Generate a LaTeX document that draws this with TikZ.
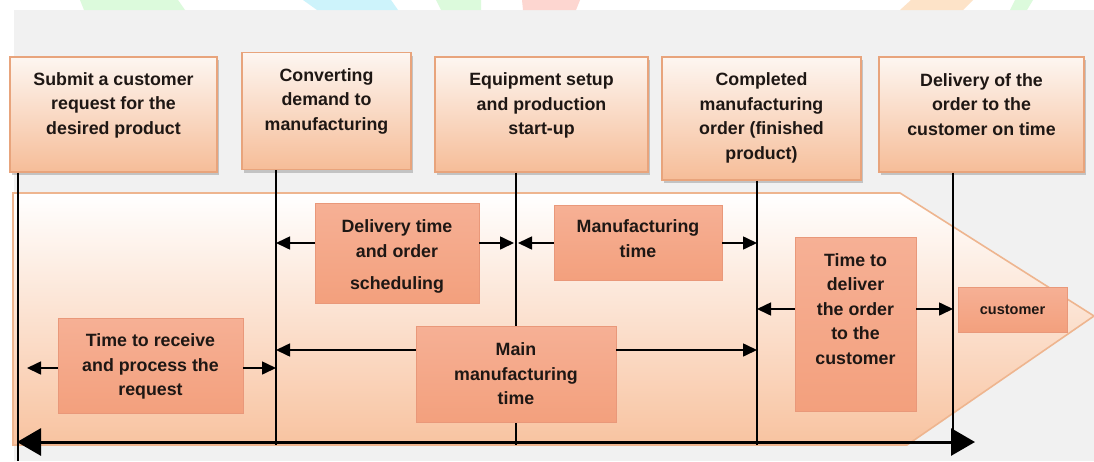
\documentclass[tikz,border=0pt]{standalone}
\usepackage{fontspec}
\setmainfont{Liberation Sans}
\usetikzlibrary{arrows.meta,shadows}
\definecolor{bg}{HTML}{F1F1F1}
\definecolor{topbord}{HTML}{E8A47C}
\definecolor{toptop}{HTML}{FDF6F1}
\definecolor{topbot}{HTML}{F6BD98}
\definecolor{inbord}{HTML}{E9987A}
\definecolor{intop}{HTML}{F6B095}
\definecolor{inbot}{HTML}{F3A07D}
\definecolor{chbord}{HTML}{EEB58F}
\definecolor{chbot}{HTML}{F8C3A0}
\definecolor{txt}{HTML}{1E1714}
\definecolor{wgreen}{HTML}{DCFADC}
\definecolor{wcyan}{HTML}{CDF3FB}
\definecolor{wpink}{HTML}{FDD6D0}
\definecolor{worange}{HTML}{FDE3C8}
\tikzset{
  topbox/.style={draw=topbord, line width=1.2pt, top color=toptop, bottom color=topbot, inner sep=0pt,
    drop shadow={shadow xshift=2pt, shadow yshift=-3pt, fill=black!50, opacity=0.4}},
  inbox/.style={draw=inbord, line width=0.8pt, top color=intop, bottom color=inbot, inner sep=0pt},
  lbl/.style={text=txt, font=\fontsize{17.8}{24.5}\selectfont\bfseries, align=center, inner sep=0pt},
  smalllbl/.style={text=txt, font=\fontsize{14.5}{17}\selectfont\bfseries, align=center, inner sep=0pt},
  vline/.style={draw=black, line width=1.4pt},
  arr/.style={draw=black, line width=1.6pt, -{Triangle[length=14pt,width=13pt]}},
  bigarr/.style={draw=black, line width=3pt, {Triangle[length=24pt,width=27pt]}-{Triangle[length=24pt,width=27pt]}},
}
\begin{document}
\begin{tikzpicture}[x=1pt,y=-1pt]
\useasboundingbox (0,0) rectangle (1094,461);
% background
\fill[white] (0,0) rectangle (1094,461);
\fill[bg] (14,10) rectangle (1094,461);
% watermark fragments
\fill[wgreen] (80,0) -- (178,0) -- (185,10) -- (84,10) -- cycle;
\fill[wcyan] (303,0) -- (391,0) -- (398,10) -- (317,10) -- cycle;
\fill[wgreen] (436,0) -- (481,0) -- (481,10) -- (441,10) -- cycle;
\fill[wpink] (522,0) -- (580,0) -- (576,10) -- (523,10) -- cycle;
\fill[worange] (911,0) -- (973,0) -- (963,10) -- (900,10) -- cycle;
\fill[wgreen] (1015,0) -- (1033,0) -- (1027,10) -- (1010,10) -- cycle;
% chevron band
\path[draw=chbord, line width=1.6pt, top color=white, bottom color=chbot]
  (13,193) -- (900,193) -- (1094,316) -- (907,445) -- (13,445) -- cycle;
% top boxes
\node[topbox, minimum width=207pt, minimum height=115pt] (b1) at (113.5,114.5) {};
\node[topbox, minimum width=169pt, minimum height=117pt] (b2) at (326.5,111) {};
\node[topbox, minimum width=213pt, minimum height=115pt] (b3) at (541.5,114.5) {};
\node[topbox, minimum width=199pt, minimum height=123pt] (b4) at (761.5,118.5) {};
\node[topbox, minimum width=205pt, minimum height=115pt] (b5) at (981.5,114.5) {};
\node[lbl] (t1) at (113.5,105) {Submit a customer\\request for the\\desired product};
\node[lbl] (t2) at (326.5,101) {Converting\\demand to\\manufacturing};
\node[lbl] (t3) at (541.5,105.5) {Equipment setup\\and production\\start-up};
\node[lbl] (t4) at (761.5,118) {Completed\\manufacturing\\order (finished\\product)};
\node[lbl] (t5) at (981.5,104.5) {Delivery of the\\order to the\\customer on time};
% vertical lines
\coordinate (v1) at (18,461);
\coordinate (v2) at (276,445);
\coordinate (v3) at (516,445);
\coordinate (v4) at (757,445);
\coordinate (v5) at (953,445);
\draw[vline] (b1.south -| v1) -- (v1);
\draw[vline] (b2.south -| v2) -- (v2);
\draw[vline] (b3.south -| v3) -- (v3);
\draw[vline] (b4.south -| v4) -- (v4);
\draw[vline] (b5.south -| v5) -- (v5);
% inner boxes
\node[inbox, minimum width=164pt, minimum height=100pt] (dly) at (397,253) {};
\node[lbl] (dlyt) at (397,256.5) {Delivery time\\and order\\[8pt]scheduling};
\node[inbox, minimum width=168pt, minimum height=75pt] (mfg) at (638,242.5) {};
\node[lbl] (mfgt) at (638,238.5) {Manufacturing\\time};
\node[inbox, minimum width=185pt, minimum height=95pt] (rcv) at (150.5,365.5) {};
\node[lbl] (rcvt) at (150.5,366.5) {Time to receive\\and process the\\request};
\node[inbox, minimum width=200pt, minimum height=96pt] (main) at (516,374) {};
\node[lbl] (maint) at (516,374) {Main\\manufacturing\\time};
\node[inbox, minimum width=121pt, minimum height=174pt] (dlv) at (855.5,324) {};
\node[lbl] (dlvt) at (855.5,309) {Time to\\deliver\\the order\\to the\\customer};
\node[inbox, minimum width=109pt, minimum height=45pt] (cst) at (1012.5,309.5) {};
\node[smalllbl] (cstt) at (1012.5,310) {customer};
% row coordinates
\coordinate (r1) at (0,243);
\coordinate (r2) at (0,350);
\coordinate (r3) at (0,368);
\coordinate (r4) at (0,309);
\coordinate (lft) at (27,368);
% arrows
\draw[arr] (dly.west |- r1) -- (v2 |- r1);
\draw[arr] (dly.east |- r1) -- ([xshift=-2pt]v3 |- r1);
\draw[arr] (mfg.west |- r1) -- ([xshift=2pt]v3 |- r1);
\draw[arr] (mfg.east |- r1) -- (v4 |- r1);
\draw[arr] (rcv.west |- r3) -- (lft);
\draw[arr] (rcv.east |- r3) -- (v2 |- r3);
\draw[arr] (main.west |- r2) -- (v2 |- r2);
\draw[arr] (main.east |- r2) -- (v4 |- r2);
\draw[arr] (dlv.west |- r4) -- (v4 |- r4);
\draw[arr] (dlv.east |- r4) -- (v5 |- r4);
% bottom timeline
\coordinate (ba1) at (17,442);
\coordinate (ba2) at (975,442);
\draw[bigarr] (ba1) -- (ba2);
\end{tikzpicture}
\end{document}
